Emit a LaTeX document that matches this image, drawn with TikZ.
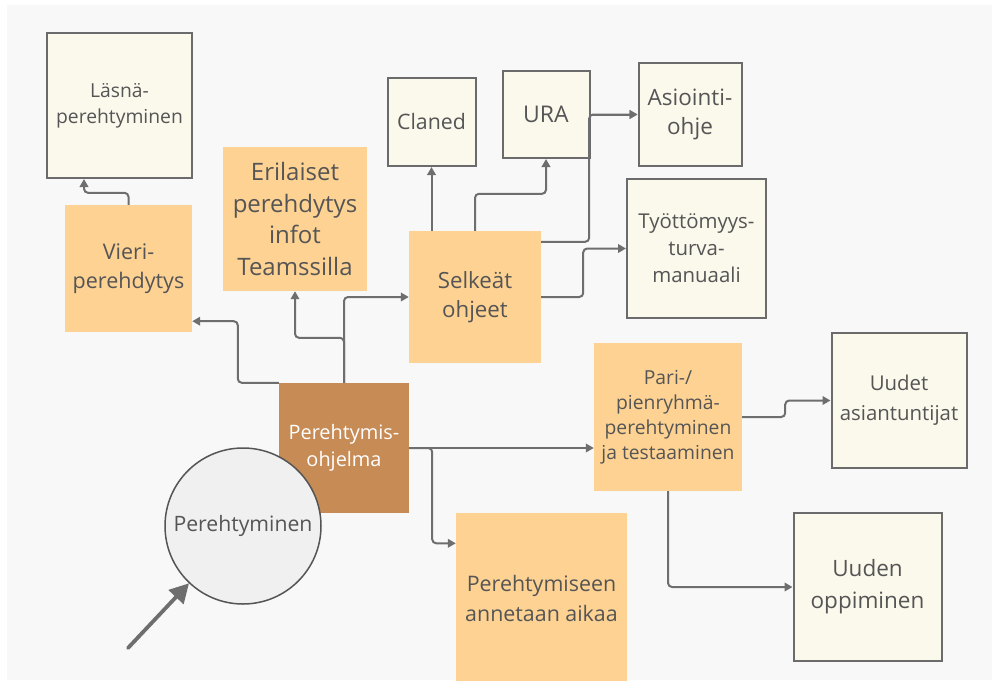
\documentclass[tikz,border=0pt]{standalone}
\usepackage{fontspec}
\setmainfont{Open Sans}
\usetikzlibrary{arrows.meta}

\definecolor{pagebg}{HTML}{F8F8F8}
\definecolor{cream}{HTML}{FBF8EC}
\definecolor{orng}{HTML}{FDD293}
\definecolor{brown}{HTML}{C78B55}
\definecolor{edge}{HTML}{6B6B6B}
\definecolor{wire}{HTML}{6E6E6E}
\definecolor{txt}{HTML}{555555}
\definecolor{circfill}{HTML}{F0F0F0}

\newcommand{\fs}[2]{\fontsize{#1}{#2}\selectfont}

\tikzset{
  basebox/.style={inner sep=0pt, align=center, text=txt, minimum width=#1, minimum height=#1},
  creambox/.style={basebox=#1, draw=edge, line width=2pt, fill=cream},
  orangebox/.style={basebox=#1, fill=orng},
  brownbox/.style={basebox=#1, fill=brown, text=white},
  conn/.style={draw=wire, line width=2pt, rounded corners=4pt,
    -{Triangle[length=8pt,width=8.5pt]}},
  bigarrow/.style={draw=wire, line width=3.8pt, line cap=round,
    -{Triangle[length=19pt,width=20pt]}}
}

\begin{document}
\begin{tikzpicture}[x=1pt,y=-1pt]
  \useasboundingbox (0,0) rectangle (992,680);
  \fill[white] (0,0) rectangle (992,680);
  \fill[pagebg] (7,5) rectangle (992,680);

  % cream boxes
  \node[creambox=145pt, font=\fs{19.3}{26}] (lasna) at (119.5,105.5) {Läsnä-\\perehtyminen};
  \node[creambox=88pt, font=\fs{21.3}{28}] (claned) at (431.5,122) {Claned};
  \node[creambox=87pt, font=\fs{23}{29}] (ura) at (546,114.5) {URA};
  \node[creambox=103pt, font=\fs{22.5}{29}] (asiointi) at (690,114.5) {Asiointi-\\ohje};
  \node[creambox=139pt, font=\fs{20.4}{27}] (tyott) at (696.5,248.5) {Työttömyys-\\turva-\\manuaali};
  \node[creambox=135pt, font=\fs{20.4}{30}] (uudet) at (899,400.5) {Uudet\\asiantuntijat};
  \node[creambox=148pt, font=\fs{22.5}{32}] (uuden) at (867.5,587) {Uuden\\oppiminen};

  % orange boxes
  \node[orangebox=127pt, font=\fs{21.5}{29}] (vieri) at (128.5,268.5) {Vieri-\\perehdytys};
  \node[orangebox=144pt, font=\fs{24}{31.5}] (erilaiset) at (295,219) {Erilaiset\\perehdytys\\infot\\Teamssilla};
  \node[orangebox=132pt, font=\fs{22.3}{29}] (selkeat) at (475,297) {Selkeät\\ohjeet};
  \node[orangebox=148pt, font=\fs{19.3}{25}] (pari) at (668,417) {Pari-/\\pienryhmä-\\perehtyminen\\ja testaaminen};
  \node[orangebox=171pt, font=\fs{21.4}{30}] (aikaa) at (541.5,598) {Perehtymiseen\\annetaan aikaa};

  % central programme box
  \node[brownbox=130pt, font=\fs{19.9}{27}] (ohjelma) at (344,448) {Perehtymis-\\ohjelma};

  % connectors from the programme
  \draw[conn] (ohjelma.north west) -- ++(-41,0) |- ([yshift=11pt]vieri.south east);
  \draw[conn] (ohjelma.north) -- ++(0,-45) -| (erilaiset.south);
  \draw[conn] (ohjelma.north) |- (selkeat.west);
  \draw[conn] (ohjelma.east) -- (ohjelma.east -| pari.west);
  \draw[conn] (ohjelma.east) -- ++(23,0) |- ([yshift=-31pt]aikaa.north west);

  % connectors from the other boxes
  \draw[conn] (vieri.north) -- ++(0,-12) -| ([xshift=38pt]lasna.south west);
  \draw[conn] (claned.south |- selkeat.north) -- (claned.south);
  \draw[conn] (selkeat.north) -- ++(0,-37) -| (ura.south);
  \draw[conn] (ura.east) -- (asiointi.west);
  \draw[conn] ([yshift=-11pt]selkeat.north east) -- ++(48,0) |- (asiointi.west);
  \draw[conn] (selkeat.east) -- ++(42,0) |- (tyott.west);
  \draw[conn] (pari.east) -- ++(43,0) |- (uudet.west);
  \draw[conn] (pari.south) |- (uuden.west);

  % circle with the incoming arrow
  \node[circle, draw=txt, line width=1.5pt, fill=circfill, minimum size=156pt,
        inner sep=0pt, text=txt, font=\fs{21.2}{26}] (circ) at (243,526) {Perehtyminen};
  \coordinate (tail) at (128,648);
  \draw[bigarrow] (tail) -- (circ);
\end{tikzpicture}
\end{document}
